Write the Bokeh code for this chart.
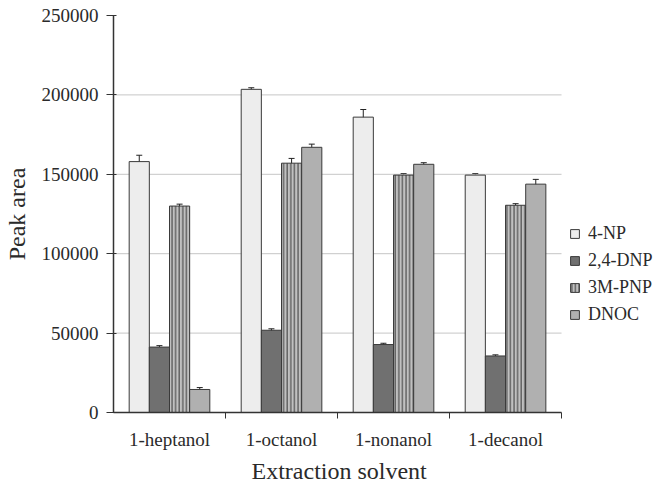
from bokeh.plotting import figure
from bokeh.models import (ColumnDataSource, FixedTicker, Whisker, TeeHead, Legend, LegendItem, Title)
from bokeh.transform import dodge
from bokeh.embed import file_html
from bokeh.resources import INLINE

solvents = ["1-heptanol", "1-octanol", "1-nonanol", "1-decanol"]
series = ["4-NP", "2,4-DNP", "3M-PNP", "DNOC"]
np4 = [158000, 203500, 186000, 149500]
np4_err = [4000, 1000, 4800, 1000]
dnp24 = [41200, 51800, 42800, 35600]
dnp24_err = [900, 900, 800, 700]
mpnp3 = [130000, 157000, 149500, 130500]
mpnp3_err = [1200, 3000, 1000, 1000]
dnoc = [14500, 167000, 156300, 143800]
dnoc_err = [1200, 2000, 1000, 3000]
y_ticks = [0, 50000, 100000, 150000, 200000, 250000]

values = [np4, dnp24, mpnp3, dnoc]
errors = [np4_err, dnp24_err, mpnp3_err, dnoc_err]

FONT = "Liberation Serif"
TXT = "#2a2a2a"
n = len(solvents)
centers = [i + 0.5 for i in range(n)]

# frame extends to the right edge so the legend can sit beside the bars
p = figure(width=654, height=487, x_range=(0, 4.83), y_range=(0, 250000),
           output_backend="svg", toolbar_location=None,
           min_border_left=107, min_border_right=0, min_border_top=15, min_border_bottom=74)
p.outline_line_color = None
p.background_fill_color = "white"
p.xgrid.grid_line_color = None
p.ygrid.grid_line_color = None

grid_y = y_ticks[1:-1]
p.segment(x0=[0] * len(grid_y), x1=[n] * len(grid_y), y0=grid_y, y1=grid_y,
          line_color="#c6c6c6", line_width=1)

offsets = [-0.27, -0.09, 0.09, 0.27]
styles = [
    dict(fill_color="#ededed"),
    dict(fill_color="#707070"),
    dict(fill_color="#c0c0c0", hatch_pattern="|", hatch_color="#383838", hatch_scale=3.6, hatch_weight=1),
    dict(fill_color="#b0b0b0"),
]

items = []
for name, vals, errs, off, st in zip(series, values, errors, offsets, styles):
    src = ColumnDataSource(dict(x=centers, top=vals,
                                upper=[v + e for v, e in zip(vals, errs)],
                                lower=[v - e for v, e in zip(vals, errs)]))
    r = p.vbar(x=dodge("x", off, range=p.x_range), top="top", bottom=0, width=0.18,
               line_color="#3a3a3a", line_width=1, source=src, **st)
    items.append(LegendItem(label=name, renderers=[r]))
    w = Whisker(source=src, base=dodge("x", off, range=p.x_range), upper="upper", lower="lower",
                line_color="#222222", line_width=1,
                upper_head=TeeHead(size=6, line_color="#222222", line_width=1),
                lower_head=TeeHead(size=6, line_color="#222222", line_width=1))
    p.add_layout(w)

# axes
p.yaxis.ticker = FixedTicker(ticks=y_ticks)
p.xaxis.ticker = FixedTicker(ticks=centers, minor_ticks=[i + 1 for i in range(n)])
p.xaxis.bounds = (0, n)
p.xaxis.major_label_overrides = {c: s for c, s in zip(centers, solvents)}
p.xaxis.major_tick_line_color = None
p.xaxis.minor_tick_line_color = "#333333"
p.xaxis.minor_tick_out = 6
p.xaxis.minor_tick_in = 0

for ax in (p.xaxis, p.yaxis):
    ax.axis_line_color = "#333333"
    ax.axis_line_width = 1.5
    ax.major_label_text_font = FONT
    ax.major_label_text_font_size = "19px"
    ax.major_label_text_color = TXT
    ax.axis_label_text_font = FONT
    ax.axis_label_text_font_size = "24px"
    ax.axis_label_text_font_style = "normal"
    ax.axis_label_text_color = TXT

p.yaxis.major_tick_line_color = "#333333"
p.yaxis.major_tick_out = 7
p.yaxis.major_tick_in = 3
p.yaxis.minor_tick_line_color = None
p.yaxis.major_label_standoff = 8
p.yaxis.axis_label = "Peak area"
p.yaxis.axis_label_standoff = 9
p.yaxis.formatter.use_scientific = False

p.xaxis.major_label_standoff = 10

# x-axis title centred under the bars (not under the legend area)
xtitle = Title(text="Extraction solvent", align="left", offset=138,
               text_font=FONT, text_font_size="24px", text_font_style="normal",
               text_color=TXT, standoff=7)
p.add_layout(xtitle, "below")

legend = Legend(items=items, location=(456, 87), orientation="vertical",
                label_text_font=FONT, label_text_font_size="18px", label_text_color=TXT,
                glyph_width=11, glyph_height=11, label_height=20, label_standoff=8,
                spacing=6, padding=4, margin=0, border_line_color=None,
                background_fill_alpha=0)
p.add_layout(legend, "center")

open("out.html", "w").write(file_html(p, INLINE))
